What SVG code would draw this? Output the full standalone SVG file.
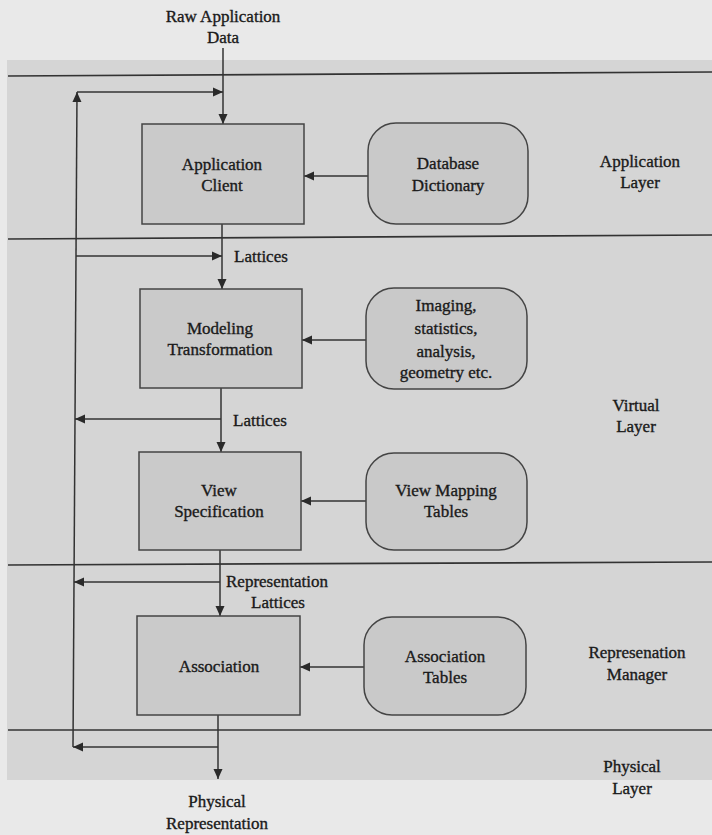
<svg xmlns="http://www.w3.org/2000/svg" width="712" height="835" viewBox="0 0 712 835">
  <style>
    .t { font-family: "Liberation Serif", "Times New Roman", serif; font-size: 17px; fill: #1a1a1a; stroke: #1a1a1a; stroke-width: 0.35; text-anchor: middle; }
    .tl { font-family: "Liberation Serif", "Times New Roman", serif; font-size: 17px; fill: #1a1a1a; stroke: #1a1a1a; stroke-width: 0.35; text-anchor: start; }
    .box { fill: #cacaca; stroke: #444; stroke-width: 1.5; }
    .rbox { fill: #c9c9c9; stroke: #444; stroke-width: 1.5; }
    .sep { stroke: #333; stroke-width: 1.7; fill: none; }
    .wire { stroke: #333; stroke-width: 1.5; fill: none; }
  </style>
  <defs>
    <marker id="arrow" viewBox="0 0 10 10" refX="10" refY="5" markerWidth="10" markerHeight="10" markerUnits="userSpaceOnUse" orient="auto">
      <path d="M0,0.5 L10,5 L0,9.5 z" fill="#2a2a2a"/>
    </marker>
  </defs>

  <!-- page background -->
  <rect x="0" y="0" width="712" height="835" fill="#e9e9e9"/>
  <rect x="7" y="60" width="705" height="720" fill="#d5d5d5"/>

  <!-- layer separators -->
  <g id="layers">
    <path class="sep" d="M8,76 L712,72"/>
    <path class="sep" d="M8,239 L712,235"/>
    <path class="sep" d="M8,565 L712,562"/>
    <path class="sep" d="M8,730 L712,730"/>
  </g>

  <!-- layer labels -->
  <g id="layer-labels">
    <text class="t" x="640" y="167">Application</text>
    <text class="t" x="640" y="188">Layer</text>
    <text class="t" x="636" y="411">Virtual</text>
    <text class="t" x="636" y="432">Layer</text>
    <text class="t" x="637" y="658">Represenation</text>
    <text class="t" x="637" y="680">Manager</text>
    <text class="t" x="632" y="772">Physical</text>
    <text class="t" x="632" y="794">Layer</text>
  </g>

  <!-- input / output labels -->
  <g id="io-labels">
    <text class="t" x="223" y="22">Raw Application</text>
    <text class="t" x="223" y="43">Data</text>
    <text class="t" x="217" y="807">Physical</text>
    <text class="t" x="217" y="829">Representation</text>
  </g>

  <!-- connectors -->
  <g id="connectors">
    <!-- main flow -->
    <line class="wire" x1="223" y1="48" x2="223" y2="124" marker-end="url(#arrow)"/>
    <line class="wire" x1="222" y1="224" x2="222" y2="289" marker-end="url(#arrow)"/>
    <line class="wire" x1="221" y1="388" x2="221" y2="452" marker-end="url(#arrow)"/>
    <line class="wire" x1="220" y1="550" x2="220" y2="616" marker-end="url(#arrow)"/>
    <line class="wire" x1="218" y1="715" x2="218" y2="779" marker-end="url(#arrow)"/>

    <!-- side inputs -->
    <line class="wire" x1="368" y1="176" x2="304" y2="176" marker-end="url(#arrow)"/>
    <line class="wire" x1="366" y1="340" x2="302" y2="340" marker-end="url(#arrow)"/>
    <line class="wire" x1="366" y1="501" x2="301" y2="501" marker-end="url(#arrow)"/>
    <line class="wire" x1="364" y1="667" x2="300" y2="667" marker-end="url(#arrow)"/>

    <!-- feedback loop -->
    <line class="wire" x1="73" y1="747" x2="77" y2="92" marker-end="url(#arrow)"/>
    <line class="wire" x1="77" y1="92" x2="223" y2="92" marker-end="url(#arrow)"/>
    <line class="wire" x1="76" y1="256" x2="222" y2="256" marker-end="url(#arrow)"/>
    <line class="wire" x1="221" y1="419" x2="75" y2="419" marker-end="url(#arrow)"/>
    <line class="wire" x1="220" y1="582" x2="74" y2="582" marker-end="url(#arrow)"/>
    <line class="wire" x1="218" y1="747" x2="73" y2="747" marker-end="url(#arrow)"/>

    <!-- connector labels -->
    <text class="tl" x="234" y="262">Lattices</text>
    <text class="tl" x="233" y="426">Lattices</text>
    <text class="tl" x="226" y="587">Representation</text>
    <text class="t" x="278" y="608">Lattices</text>
  </g>

  <!-- process nodes -->
  <g id="application-client">
    <rect class="box" x="142" y="124" width="162" height="100"/>
    <text class="t" x="222" y="170">Application</text>
    <text class="t" x="222" y="191">Client</text>
  </g>
  <g id="modeling-transformation">
    <rect class="box" x="140" y="289" width="162" height="99"/>
    <text class="t" x="220" y="334">Modeling</text>
    <text class="t" x="220" y="355">Transformation</text>
  </g>
  <g id="view-specification">
    <rect class="box" x="139" y="452" width="162" height="98"/>
    <text class="t" x="219" y="496">View</text>
    <text class="t" x="219" y="517">Specification</text>
  </g>
  <g id="association">
    <rect class="box" x="137" y="616" width="163" height="99"/>
    <text class="t" x="219" y="672">Association</text>
  </g>

  <!-- resource nodes -->
  <g id="database-dictionary">
    <rect class="rbox" x="368" y="123" width="160" height="101" rx="28" ry="28"/>
    <text class="t" x="448" y="169">Database</text>
    <text class="t" x="448" y="191">Dictionary</text>
  </g>
  <g id="imaging-statistics">
    <rect class="rbox" x="366" y="288" width="161" height="101" rx="28" ry="28"/>
    <text class="t" x="446" y="311">Imaging,</text>
    <text class="t" x="446" y="334">statistics,</text>
    <text class="t" x="446" y="357">analysis,</text>
    <text class="t" x="446" y="378">geometry etc.</text>
  </g>
  <g id="view-mapping-tables">
    <rect class="rbox" x="366" y="453" width="161" height="97" rx="28" ry="28"/>
    <text class="t" x="446" y="496">View Mapping</text>
    <text class="t" x="446" y="517">Tables</text>
  </g>
  <g id="association-tables">
    <rect class="rbox" x="364" y="617" width="162" height="98" rx="28" ry="28"/>
    <text class="t" x="445" y="662">Association</text>
    <text class="t" x="445" y="683">Tables</text>
  </g>
</svg>
